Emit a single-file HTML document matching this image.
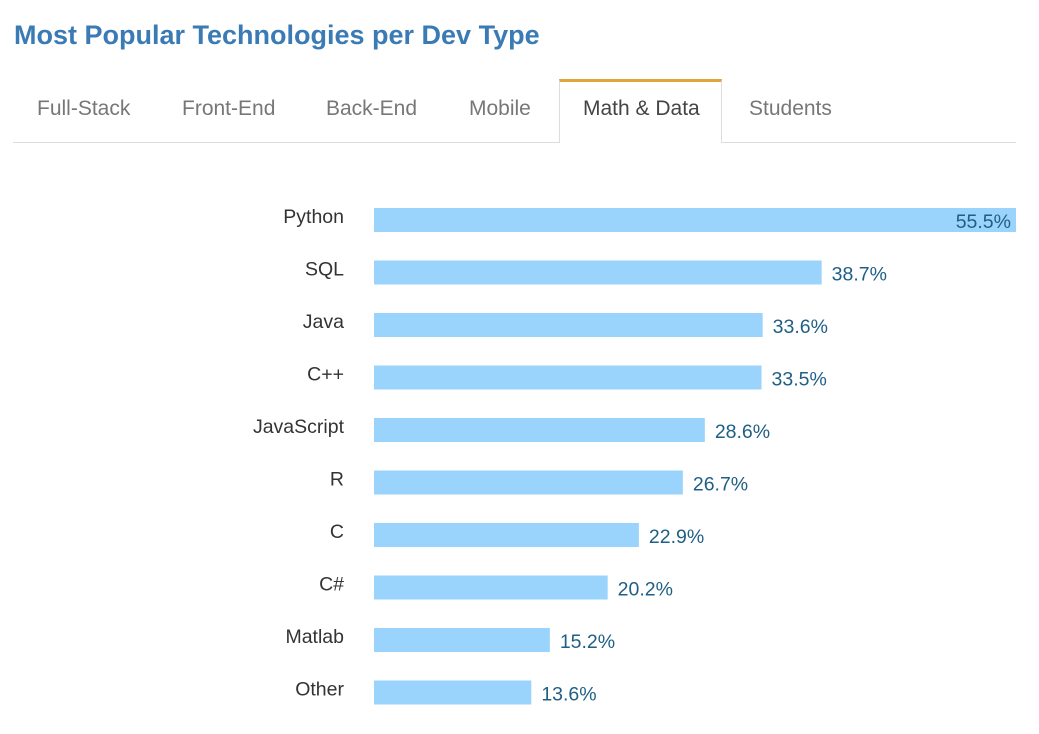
<!DOCTYPE html>
<html><head><meta charset="utf-8"><style>
body{margin:0;width:1039px;height:734px;background:#fff;font-family:"Liberation Sans",Arial,sans-serif;position:relative;overflow:hidden}
.title{position:absolute;left:14px;top:20px;font-size:27px;font-weight:bold;color:#3b7bb5}
.tabline{position:absolute;left:13px;top:142px;width:1003px;height:1px;background:#ddd}
.tab{position:absolute;top:97px;font-size:21px;color:#777}
.active{position:absolute;left:559px;top:79px;width:163px;height:64px;border:1px solid #ddd;border-top:3px solid #e0a63c;border-bottom:none;background:#fff;box-sizing:border-box}
</style></head><body>
<div class="title">Most Popular Technologies per Dev Type</div>
<div class="tabline"></div>
<div class="active"></div>
<div class="tab" style="left:37px">Full-Stack</div>
<div class="tab" style="left:182px">Front-End</div>
<div class="tab" style="left:326px">Back-End</div>
<div class="tab" style="left:469px">Mobile</div>
<div class="tab" style="left:583px;color:#444">Math &amp; Data</div>
<div class="tab" style="left:749px">Students</div>
<svg id="chart" width="1039" height="734" style="position:absolute;left:0;top:0"></svg>
<script>
const categories=["Python","SQL","Java","C++","JavaScript","R","C","C#","Matlab","Other"];
const values=[55.5,38.7,33.6,33.5,28.6,26.7,22.9,20.2,15.2,13.6];
const valueLabels=["55.5%","38.7%","33.6%","33.5%","28.6%","26.7%","22.9%","20.2%","15.2%","13.6%"];
const svg=document.getElementById('chart');
const NS='http://www.w3.org/2000/svg';
const x0=374,x1=1016,maxV=55.5;
const xs=v=>x0+(x1-x0)*v/maxV;
const ys=i=>220+i*52.5;
categories.forEach((c,i)=>{
  const cy=ys(i);
  const r=document.createElementNS(NS,'rect');
  r.setAttribute('x',x0);r.setAttribute('y',cy-12);
  r.setAttribute('width',xs(values[i])-x0);r.setAttribute('height',24);
  r.setAttribute('fill','#9ad3fb');
  
  
  svg.appendChild(r);
  const t=document.createElementNS(NS,'text');
  t.setAttribute('x',344);t.setAttribute('y',cy+3);
  t.setAttribute('text-anchor','end');t.setAttribute('font-size','19.5');t.setAttribute('fill','#333');
  t.textContent=c;
  
  
  svg.appendChild(t);
  const v=document.createElementNS(NS,'text');
  const end=xs(values[i]);
  const inside=end+80>1030;
  v.setAttribute('x',inside?end-5:end+10);v.setAttribute('y',cy+8);
  v.setAttribute('text-anchor',inside?'end':'start');
  v.setAttribute('font-size','19.5');v.setAttribute('fill','#1f5f85');
  v.textContent=valueLabels[i];
  
  
  svg.appendChild(v);
});
</script>
</body></html>
